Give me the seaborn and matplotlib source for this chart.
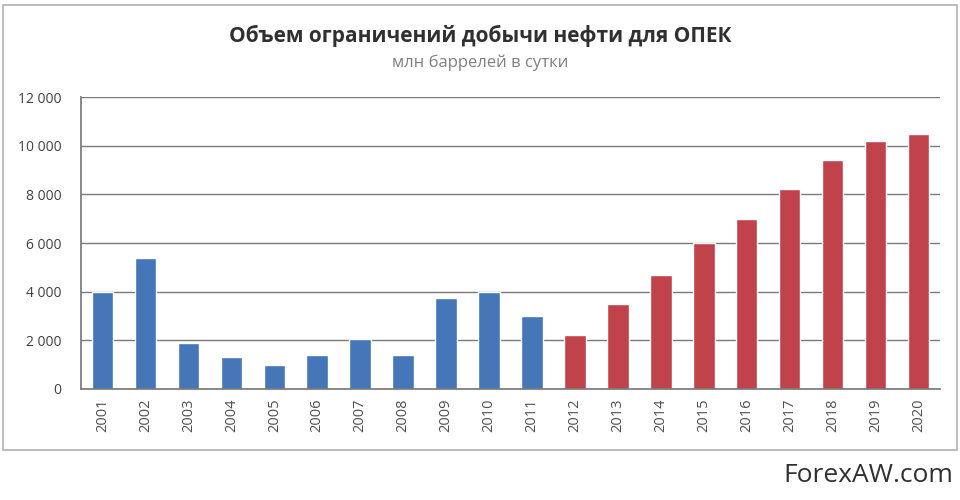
import matplotlib
matplotlib.use("Agg")
import matplotlib.pyplot as plt
import seaborn as sns
import pandas as pd
from matplotlib.patches import Rectangle
from matplotlib.ticker import FuncFormatter

years = [str(y) for y in range(2001, 2021)]
values = [4000, 5400, 1900, 1300, 1000, 1400, 2050, 1400, 3750, 4000, 3000,
          2200, 3500, 4700, 6000, 7000, 8200, 9400, 10200, 10500]
groups = ["past"] * 11 + ["future"] * 9
colors = {"past": "#4476B8", "future": "#C0434C"}

title = "Объем ограничений добычи нефти для ОПЕК"
subtitle = "млн баррелей в сутки"
watermark = "ForexAW.com"
yticks = [0, 2000, 4000, 6000, 8000, 10000, 12000]

sns.set_theme(style="white")
plt.rcParams['font.family'] = ['Open Sans', 'DejaVu Sans']

df = pd.DataFrame({"year": years, "value": values, "group": groups})

fig = plt.figure(figsize=(9.6, 5.0), dpi=100)
fig.patch.set_facecolor("white")
ax = fig.add_axes([81/960, 1-389/500, (940-81)/960, (389-97)/500])

sns.barplot(data=df, x="year", y="value", hue="group", palette=colors,
            dodge=False, width=0.5, legend=False, ax=ax, saturation=1)

ax.set_ylim(0, 12000)
ax.set_xlim(-0.5, len(years) - 0.5)
ax.set_yticks(yticks)
ax.yaxis.set_major_formatter(FuncFormatter(lambda v, p: f"{int(v):,}".replace(",", " ")))
ax.grid(axis="y", color="#7a7a7a", linewidth=1.0)
ax.set_axisbelow(True)
ax.set_xlabel("")
ax.set_ylabel("")
for s in ["top", "right"]:
    ax.spines[s].set_visible(False)
ax.spines["left"].set_color("#7a7a7a")
ax.spines["bottom"].set_color("#7a7a7a")
ax.tick_params(axis="y", labelsize=10, colors="#404040", pad=14, length=0)
ax.tick_params(axis="x", labelsize=10.5, colors="#505050", pad=7, length=0, labelrotation=90)
for lbl in ax.get_xticklabels():
    lbl.set_verticalalignment("top")

fig.text(0.5, 1-36/500, title, ha="center", va="center", fontsize=15,
         fontweight="bold", color="#303030")
fig.text(0.5, 1-63/500, subtitle, ha="center", va="center", fontsize=12,
         color="#808080")
fig.text(953/960, 1-475/500, watermark, ha="right", va="center", fontsize=19,
         color="#303030")

fig.patches.append(Rectangle((3/960, 1-450/500), 954/960, 445/500,
                             transform=fig.transFigure, fill=False,
                             edgecolor="#b0b0b0", linewidth=1.2))

fig.savefig("out.png", dpi=100)
